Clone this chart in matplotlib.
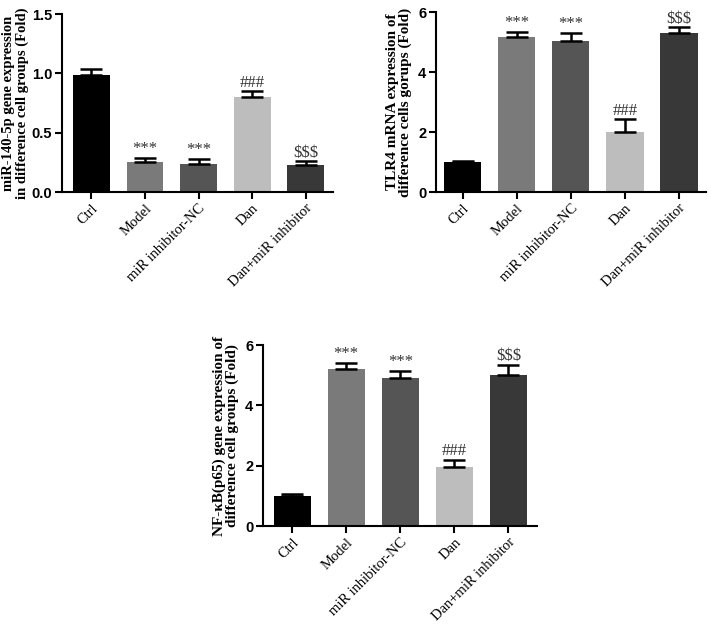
import matplotlib.pyplot as plt

groups = ['Ctrl', 'Model', 'miR inhibitor-NC', 'Dan', 'Dan+miR inhibitor']
colors = ['#000000', '#7a7a7a', '#555555', '#bdbdbd', '#383838']

mir_mean = [0.99, 0.25, 0.24, 0.80, 0.23]
mir_err = [0.05, 0.04, 0.04, 0.05, 0.03]
mir_marks = ['', '***', '***', '###', '$$$']

tlr4_mean = [0.99, 5.16, 5.02, 2.01, 5.31]
tlr4_err = [0.05, 0.18, 0.29, 0.41, 0.18]
tlr4_marks = ['', '***', '***', '###', '$$$']

nfkb_mean = [1.0, 5.19, 4.92, 1.94, 5.0]
nfkb_err = [0.07, 0.22, 0.22, 0.25, 0.35]
nfkb_marks = ['', '***', '***', '###', '$$$']

W, H = 709, 626
fig = plt.figure(figsize=(W / 100, H / 100), dpi=100)


def panel(rect, xlim, mean, err, marks, ylim, yticks, ylabel, fmt, ylabel_size=11, pad=4):
    l, t, r, b = rect
    ax = fig.add_axes([l / W, 1 - b / H, (r - l) / W, (b - t) / H])
    x = range(len(mean))
    ax.bar(x, mean, width=0.69, color=colors, edgecolor='none', zorder=2)
    ax.errorbar(x, mean, yerr=[[0] * len(err), err], fmt='none', ecolor='black',
                elinewidth=1.8, capsize=8, capthick=1.8, zorder=3)
    span = ylim[1] - ylim[0]
    for i, m in enumerate(marks):
        if m:
            ax.text(i, mean[i] + err[i] + span * 0.003, m, ha='center', va='bottom',
                    fontsize=12, family='Liberation Serif', color='#333333')
    ax.set_xlim(*xlim)
    ax.set_ylim(*ylim)
    ax.set_yticks(yticks)
    ax.set_yticklabels([fmt.format(v) for v in yticks], fontsize=10.5,
                       fontweight='bold', family='Liberation Sans')
    ax.set_xticks(list(x))
    ax.set_xticklabels(groups, rotation=45, ha='right', rotation_mode='anchor',
                       fontsize=10.5, family='Liberation Serif')
    ax.set_ylabel(ylabel, fontsize=ylabel_size, fontweight='bold', family='Liberation Serif',
                  linespacing=1.0, labelpad=pad)
    for s in ['top', 'right']:
        ax.spines[s].set_visible(False)
    for s in ['left', 'bottom']:
        ax.spines[s].set_linewidth(1.5)
    ax.tick_params(width=1.5, length=5, pad=2)
    return ax


panel((62, 14, 333, 192), (-0.55, 4.51), mir_mean, mir_err, mir_marks,
      (0, 1.5), [0.0, 0.5, 1.0, 1.5],
      'miR-140-5p gene expression\nin difference cell groups (Fold)', '{:.1f}',
      ylabel_size=10.5, pad=2)
panel((436, 12, 706, 192), (-0.49, 4.5), tlr4_mean, tlr4_err, tlr4_marks,
      (0, 6), [0, 2, 4, 6],
      'TLR4 mRNA expression of\ndifference cells gorups (Fold)', '{:.0f}')
panel((263, 345, 537, 526), (-0.54, 4.53), nfkb_mean, nfkb_err, nfkb_marks,
      (0, 6), [0, 2, 4, 6],
      'NF-κB(p65) gene expression of\ndifference cell groups (Fold)', '{:.0f}')

fig.savefig('out.png', dpi=100)
